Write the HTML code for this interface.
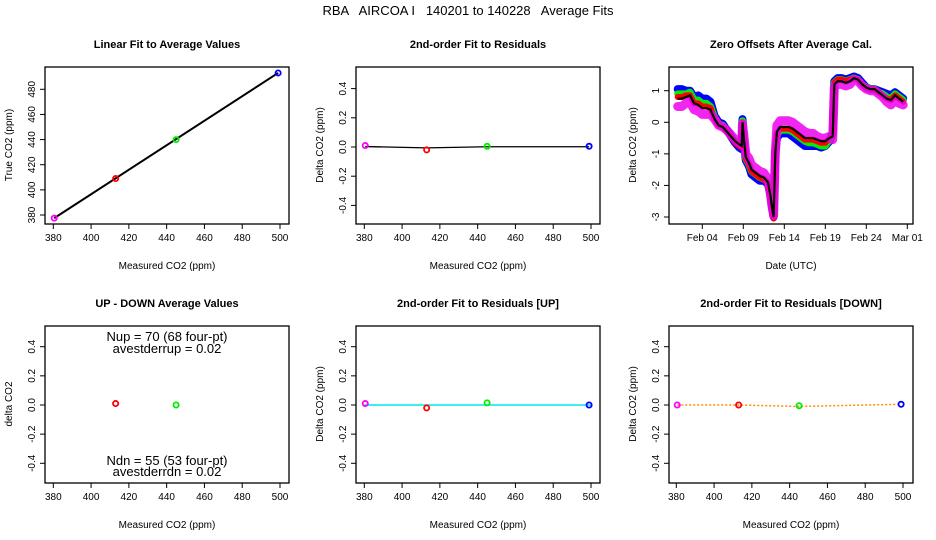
<!DOCTYPE html>
<html><head><meta charset="utf-8"><style>
body{margin:0;background:#fff}
svg{display:block;font-family:"Liberation Sans",sans-serif}
</style></head><body>
<svg id="c" width="936" height="540" xmlns="http://www.w3.org/2000/svg">
<text x="468" y="15" text-anchor="middle" font-size="13" style="white-space:pre" xml:space="preserve">RBA   AIRCOA I   140201 to 140228   Average Fits</text>
</svg>
<script>
// ---- data ----
const calPpm = [380.5, 413, 445, 499];
const calTrue = [377.5, 409, 440, 493];
const calColors = ['#ff00ff','#ff0000','#00ee00','#0000ff'];
const resid = [0.01, -0.02, 0.005, 0.005];
const udPpm = [413, 445];
const udVals = [0.01, 0.0];
const upPpm = [380.5, 413, 445, 499];
const upVals = [0.01, -0.02, 0.015, 0.0];
const dnPpm = [380.5, 413, 445, 499];
const dnVals = [0.0, 0.0, -0.005, 0.005];
const ppmTicks = [380, 400, 420, 440, 460, 480, 500];
const trueTicks = [380, 400, 420, 440, 460, 480];
const residTicks = [-0.4, -0.2, 0.0, 0.2, 0.4];
const residTickLabels = ['-0.4', '-0.2', '0.0', '0.2', '0.4'];
const dayTicks = [4, 9, 14, 19, 24, 29];
const dayTickLabels = ['Feb 04','Feb 09','Feb 14','Feb 19','Feb 24','Mar 01'];
const offTicks = [-3, -2, -1, 0, 1];
const tDays = [1,1.5,2,2.5,3,3.5,4,4.5,5,5.5,6,6.5,7,7.5,8,8.5,8.8,8.9,9.1,9.3,9.7,10,10.5,11,11.5,12,12.3,12.5,12.7,12.9,13.1,13.5,14,14.5,15,15.5,16,16.5,17,17.5,18,18.5,19,19.5,19.9,20.1,20.5,21,21.5,22,22.5,23,23.5,24,24.5,25,25.5,26,26.5,27,27.5,28,28.5];
const offBlack = [0.75,0.75,0.8,0.85,0.6,0.55,0.45,0.45,0.4,0.1,-0.1,-0.15,-0.3,-0.45,-0.6,-0.7,-0.75,0.0,-0.6,-1.1,-1.3,-1.5,-1.6,-1.7,-1.75,-1.9,-2.3,-2.7,-3.0,-1.0,-0.3,-0.15,-0.15,-0.15,-0.2,-0.3,-0.4,-0.5,-0.5,-0.5,-0.55,-0.6,-0.6,-0.5,-0.45,1.2,1.3,1.3,1.25,1.3,1.4,1.35,1.2,1.1,1.05,1.05,0.95,0.85,0.75,0.7,0.85,0.75,0.65];
const offBlue = [0.3,0.3,0.2,0.15,0.2,0.3,0.3,0.3,0.25,0.1,0.1,0.1,0.05,0.0,-0.05,-0.1,-0.1,0.1,-0.1,-0.1,-0.1,-0.15,-0.15,-0.15,-0.1,-0.05,0.0,0.0,0.0,0.0,-0.2,-0.2,-0.2,-0.2,-0.25,-0.25,-0.25,-0.25,-0.25,-0.25,-0.2,-0.2,-0.15,-0.1,0.1,0.1,0.1,0.1,0.1,0.1,0.05,0.05,0.05,0.0,0.0,0.0,0.05,0.1,0.15,0.15,0.1,0.1,0.1];
const offGreen = [0.15,0.15,0.1,0.1,0.1,0.15,0.15,0.15,0.1,0.05,0.05,0.05,0.0,0.0,0.0,0.0,0.0,0.05,0.0,-0.05,-0.05,-0.05,-0.05,-0.05,-0.05,0.0,0.0,0.0,0.0,0.0,-0.1,-0.1,-0.1,-0.1,-0.1,-0.1,-0.1,-0.1,-0.15,-0.15,-0.15,-0.15,-0.15,-0.05,0.05,0.05,0.05,0.05,0.05,0.05,0.0,0.0,0.0,0.0,0.0,0.0,0.0,0.05,0.05,0.05,0.05,0.05,0.05];
const offRed = [0.05,0.05,0.05,0.0,0.0,0.05,0.05,0.05,0.05,0.0,0.0,0.0,0.0,0.0,-0.05,-0.05,-0.05,0.0,0.0,-0.05,-0.05,-0.05,-0.05,-0.05,-0.05,-0.05,-0.05,-0.05,-0.05,0.0,-0.05,-0.05,-0.05,-0.05,-0.05,-0.05,-0.05,-0.05,-0.05,-0.05,-0.05,-0.05,-0.05,0.0,0.05,0.05,0.05,0.05,0.05,0.05,0.0,0.0,0.0,0.0,0.0,0.0,0.0,0.0,0.0,0.0,0.0,0.0,0.0];
const offMag = [-0.25,-0.25,-0.2,-0.2,-0.2,-0.2,-0.2,-0.2,-0.15,0.0,0.0,0.0,0.05,0.05,0.05,0.05,0.05,-0.05,0.1,0.1,0.15,0.15,0.15,0.15,0.15,0.1,0.05,0.05,0.05,0.0,0.2,0.2,0.2,0.2,0.2,0.2,0.2,0.2,0.15,0.15,0.1,0.1,0.1,0.05,-0.1,-0.1,-0.1,-0.1,-0.1,-0.1,-0.05,-0.05,-0.05,-0.05,-0.05,-0.05,-0.05,-0.05,-0.1,-0.15,-0.15,-0.15,-0.1];

const NS='http://www.w3.org/2000/svg';
const svg=document.getElementById('c');
function el(tag,attrs,parent){const e=document.createElementNS(NS,tag);for(const k in attrs)e.setAttribute(k,attrs[k]);(parent||svg).appendChild(e);return e;}
function txt(x,y,s,attrs,parent){const t=el('text',Object.assign({x:x,y:y},attrs),parent);t.textContent=s;return t;}
function lin(d0,d1,r0,r1){return v=>r0+(v-d0)*(r1-r0)/(d1-d0);}

function panel(name,x0,y0,title,xlab,ylab,xs,ys,xt,xtl,yt,ytl){
  const g=el('g',{});
  
  
  const x1=x0+244,y1=y0+157;
  const r=el('rect',{x:x0,y:y0,width:244,height:157,fill:'none',stroke:'#000','stroke-width':1.3},g);
  
  const t=txt(x0+122,y0-19,title,{'text-anchor':'middle','font-size':11,'font-weight':'bold'},g);
  
  const xl=txt(x0+122,y1+45,xlab,{'text-anchor':'middle','font-size':10},g);
  
  const yl=txt(0,0,ylab,{'text-anchor':'middle','font-size':10,transform:`translate(${x0-33},${y0+78}) rotate(-90)`},g);
  
  xt.forEach((v,i)=>{const px=xs(v);el('line',{x1:px,x2:px,y1:y1,y2:y1+5,stroke:'#000'},g);
    const l=txt(px,y1+17,xtl[i],{'text-anchor':'middle','font-size':10},g);
    });
  yt.forEach((v,i)=>{const py=ys(v);el('line',{x1:x0,x2:x0-5,y1:py,y2:py,stroke:'#000'},g);
    const l=txt(0,0,ytl[i],{'text-anchor':'middle','font-size':10,transform:`translate(${x0-10},${py}) rotate(-90)`},g);
    });
  return g;
}
function pt(g,x,y,c,nm){const p=el('circle',{cx:x,cy:y,r:2.6,fill:'none',stroke:c,'stroke-width':1.8},g);
  }

const ppmX=[lin(380,500,53.3,280),lin(380,500,364.3,591),lin(380,500,676.3,903)];
const TOP=67,BOT=326;
const ppmTL=ppmTicks.map(String);

// Panel 1
{const xs=ppmX[0],ys=lin(380,480,215,89.3);
 const g=panel('linear-fit-panel',45,TOP,'Linear Fit to Average Values','Measured CO2 (ppm)','True CO2 (ppm)',xs,ys,ppmTicks,ppmTL,trueTicks,trueTicks.map(String));
 const n=calPpm.length;
 const ln=el('line',{x1:xs(calPpm[0]),y1:ys(calTrue[0]),x2:xs(calPpm[n-1]),y2:ys(calTrue[n-1]),stroke:'#000','stroke-width':2},g);
 
 calPpm.forEach((v,i)=>pt(g,xs(v),ys(calTrue[i]),calColors[i],'cal-point'));}

// Panel 2
{const xs=ppmX[1],ys=lin(0,0.4,147,88.6);
 const g=panel('residual-fit-panel',356,TOP,'2nd-order Fit to Residuals','Measured CO2 (ppm)','Delta CO2 (ppm)',xs,ys,ppmTicks,ppmTL,residTicks,residTickLabels);
 const ln=el('polyline',{points:calPpm.map((v,i)=>xs(v)+','+ys(resid[i]*0.3)).join(' '),fill:'none',stroke:'#000','stroke-width':1.3},g);
 
 calPpm.forEach((v,i)=>pt(g,xs(v),ys(resid[i]),calColors[i],'residual-point'));}

// Panel 3
{const xs=lin(4,29,702.3,907.3),ys=lin(1,-3,90.7,217);
 const g=panel('zero-offsets-panel',669,TOP,'Zero Offsets After Average Cal.','Date (UTC)','Delta CO2 (ppm)',xs,ys,dayTicks,dayTickLabels,offTicks,offTicks.map(String));
 const series=[['blue-series',offBlue,'#0000ff',8],['green-series',offGreen,'#00ee00',7],['red-series',offRed,'#ff0000',6],['magenta-series',offMag,'#ee00ee',9]];
 series.forEach(s=>{const pl=el('polyline',{points:tDays.map((d,i)=>xs(d)+','+ys(offBlack[i]+s[1][i])).join(' '),fill:'none',stroke:s[2],'stroke-width':s[3],'stroke-linejoin':'round','stroke-linecap':'round',opacity:s[0]=='magenta-series'?0.85:1},g);
  });
 const bl=el('polyline',{points:tDays.map((d,i)=>xs(d)+','+ys(offBlack[i])).join(' '),fill:'none',stroke:'#000','stroke-width':2.2},g);
 }

// Panel 4
{const xs=ppmX[0],ys=lin(0,0.4,405,346.7);
 const g=panel('up-down-panel',45,BOT,'UP - DOWN Average Values','Measured CO2 (ppm)','delta CO2',xs,ys,ppmTicks,ppmTL,residTicks,residTickLabels);
 [['Nup = 70 (68 four-pt)',341],['avestderrup =  0.02',353],['Ndn = 55 (53 four-pt)',465],['avestderrdn =  0.02',476]].forEach(a=>{
  const t=txt(167,a[1],a[0],{'text-anchor':'middle','font-size':13},g);});
 udPpm.forEach((v,i)=>pt(g,xs(v),ys(udVals[i]),['#ff0000','#00ee00'][i],'up-down-point'));}

// Panel 5
{const xs=ppmX[1],ys=lin(0,0.4,405,346.7);
 const g=panel('residual-up-panel',356,BOT,'2nd-order Fit to Residuals [UP]','Measured CO2 (ppm)','Delta CO2 (ppm)',xs,ys,ppmTicks,ppmTL,residTicks,residTickLabels);
 const ln=el('line',{x1:xs(380),x2:xs(500),y1:ys(0),y2:ys(0),stroke:'#00e5e5','stroke-width':1.5},g);
 
 upPpm.forEach((v,i)=>pt(g,xs(v),ys(upVals[i]),calColors[i],'up-point'));}

// Panel 6
{const xs=ppmX[2],ys=lin(0,0.4,405,346.7);
 const g=panel('residual-down-panel',669,BOT,'2nd-order Fit to Residuals [DOWN]','Measured CO2 (ppm)','Delta CO2 (ppm)',xs,ys,ppmTicks,ppmTL,residTicks,residTickLabels);
 const ln=el('polyline',{points:dnPpm.map((v,i)=>xs(v)+','+ys(dnVals[i]-(i==2?0.005:0))).join(' '),fill:'none',stroke:'#ff8c00','stroke-width':1.5,'stroke-dasharray':'2,2'},g);
 
 dnPpm.forEach((v,i)=>pt(g,xs(v),ys(dnVals[i]),calColors[i],'down-point'));}
</script>
</body></html>
